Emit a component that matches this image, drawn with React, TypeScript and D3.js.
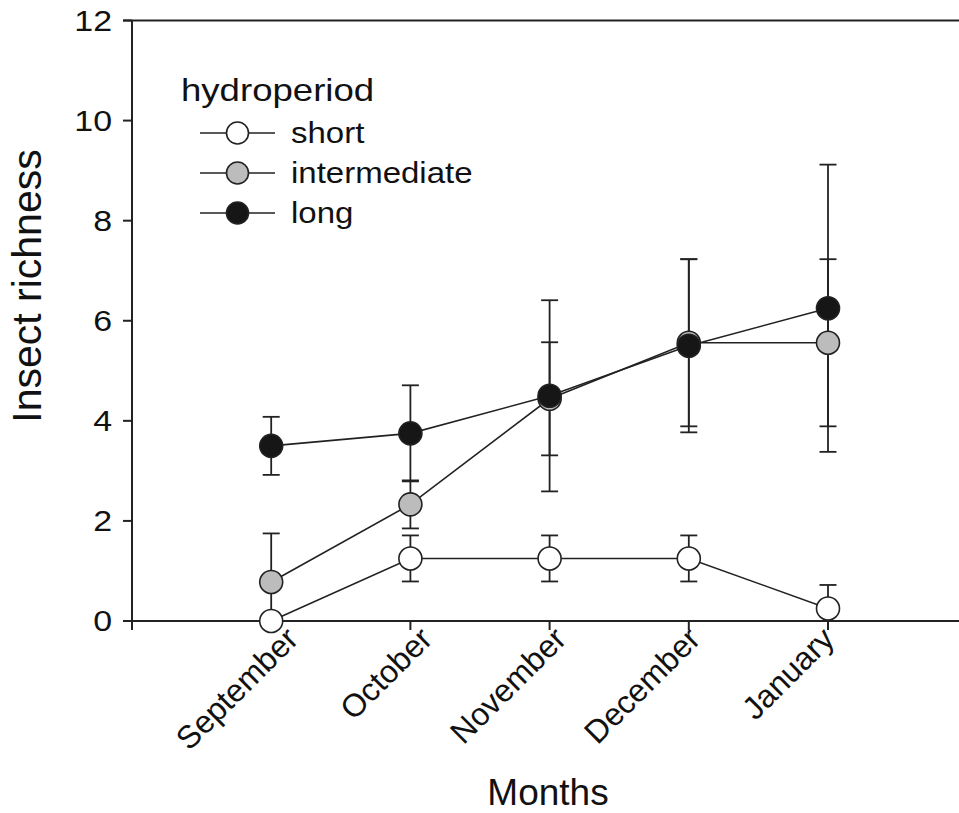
import React from 'react';
import * as d3 from 'd3';

const months = ['September', 'October', 'November', 'December', 'January'];
const yTicks = [0, 2, 4, 6, 8, 10, 12];

const shortMean = [0, 1.25, 1.25, 1.25, 0.25];
const shortErr = [0, 0.46, 0.46, 0.46, 0.47];
const interMean = [0.78, 2.33, 4.44, 5.56, 5.56];
const interErr = [0.97, 0.48, 1.13, 1.67, 1.67];
const longMean = [3.5, 3.75, 4.5, 5.5, 6.25];
const longErr = [0.58, 0.96, 1.91, 1.73, 2.87];

const series = [
  { name: 'short', fill: '#ffffff', mean: shortMean, err: shortErr },
  { name: 'intermediate', fill: '#bcbcbc', mean: interMean, err: interErr },
  { name: 'long', fill: '#161616', mean: longMean, err: longErr },
];

const W = 959;
const H = 813;
const FONT = '"Liberation Sans", Arial, sans-serif';
const INK = '#222';

const App = () => {
  const x = d3.scaleLinear().domain([0, 6]).range([132, 967.2]);
  const y = d3.scaleLinear().domain([0, 12]).range([621, 20.5]);
  // month labels sit a little off their ticks in the original
  const labelX = d3.scaleLinear().domain([1, 5]).range([300, 836]);
  const line = d3
    .line<number>()
    .x((d, i) => x(i + 1))
    .y(d => y(d));
  const r = 11.5;
  const cap = 8.5;

  return (
    <svg
      width={W}
      height={H}
      style={{ position: 'absolute', left: 0, top: 0, background: '#fff' }}
      fontFamily={FONT}
    >
      {/* axes */}
      <g stroke={INK} strokeWidth={2} fill="none">
        <line x1={x(0)} x2={x(0)} y1={y(12)} y2={y(0)} />
        <line x1={123} x2={W} y1={y(0)} y2={y(0)} />
        <line x1={123} x2={W} y1={y(12)} y2={y(12)} />
        {yTicks.map(t => (
          <line key={t} x1={123} x2={x(0)} y1={y(t)} y2={y(t)} />
        ))}
        {d3.range(0, 6).map(t => (
          <line key={t} x1={x(t)} x2={x(t)} y1={y(0)} y2={y(0) + 9} />
        ))}
      </g>
      <g fontSize={29} fill="#111" textAnchor="end">
        {yTicks.map(t => (
          <text
            key={t}
            transform={`translate(112, ${y(t)}) scale(1.17, 1)`}
            dy="0.36em"
          >
            {t}
          </text>
        ))}
      </g>
      <g fontSize={32} fill="#111" textAnchor="end">
        {months.map((m, i) => (
          <text
            key={m}
            transform={`translate(${labelX(i + 1)}, 641) rotate(-45)`}
          >
            {m}
          </text>
        ))}
      </g>
      <text
        x={548}
        y={805}
        fontSize={37}
        textAnchor="middle"
        fill="#111"
      >
        Months
      </text>
      <text
        transform="translate(41, 286) rotate(-90)"
        fontSize={41}
        textAnchor="middle"
        fill="#111"
      >
        Insect richness
      </text>

      {/* error bars */}
      <g stroke={INK} strokeWidth={1.8}>
        {series.map(s =>
          s.mean.map((m, i) => {
            if (!s.err[i]) return null;
            const hi = y(m + s.err[i]);
            const loVal = m - s.err[i];
            const lo = y(Math.max(0, loVal));
            const cx = x(i + 1);
            return (
              <g key={s.name + i}>
                <line x1={cx} x2={cx} y1={hi} y2={lo} />
                <line x1={cx - cap} x2={cx + cap} y1={hi} y2={hi} />
                {loVal >= 0 && (
                  <line x1={cx - cap} x2={cx + cap} y1={lo} y2={lo} />
                )}
              </g>
            );
          })
        )}
      </g>

      {/* lines and markers */}
      {series.map(s => (
        <g key={s.name}>
          <path d={line(s.mean) || ''} fill="none" stroke={INK} strokeWidth={1.6} />
          {s.mean.map((m, i) => (
            <circle
              key={i}
              cx={x(i + 1)}
              cy={y(m)}
              r={r}
              fill={s.fill}
              stroke={INK}
              strokeWidth={1.6}
            />
          ))}
        </g>
      ))}

      {/* legend */}
      <text transform="translate(181, 101) scale(1.18, 1)" fontSize={31} fill="#111">
        hydroperiod
      </text>
      {series.map((s, i) => {
        const cy = 133 + i * 40;
        return (
          <g key={s.name}>
            <line x1={200} x2={275} y1={cy} y2={cy} stroke={INK} strokeWidth={1.6} />
            <circle cx={237.5} cy={cy} r={11} fill={s.fill} stroke={INK} strokeWidth={1.6} />
            <text
              transform={`translate(291, ${cy + 9.5}) scale(1.1, 1)`}
              fontSize={30}
              fill="#111"
            >
              {s.name}
            </text>
          </g>
        );
      })}
    </svg>
  );
};

export default App;
